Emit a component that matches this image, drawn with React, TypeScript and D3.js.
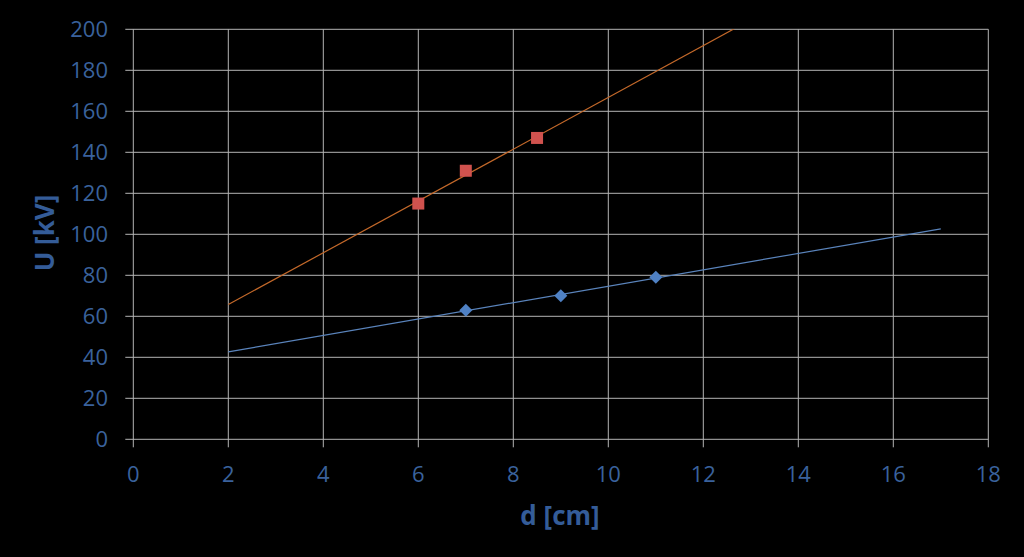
import React from "react";
import * as d3 from "d3";

const xTicks = [0, 2, 4, 6, 8, 10, 12, 14, 16, 18];
const yTicks = [0, 20, 40, 60, 80, 100, 120, 140, 160, 180, 200];

const redX = [6, 7, 8.5];
const redY = [115, 131, 147];
const blueX = [7, 9, 11];
const blueY = [63, 70, 79];
const trendRange = [2, 17];

function fit(xs: number[], ys: number[]) {
  const xm = d3.mean(xs)!;
  const ym = d3.mean(ys)!;
  let num = 0, den = 0;
  xs.forEach((x, i) => { num += (x - xm) * (ys[i] - ym); den += (x - xm) ** 2; });
  const m = num / den;
  return (x: number) => ym + m * (x - xm);
}

export default function App() {
  const W = 1024, H = 557;
  const x = d3.scaleLinear().domain([0, 18]).range([133.3, 988.3]);
  const y = d3.scaleLinear().domain([0, 200]).range([439.3, 29.3]);
  const grid = "#B4B4B4";
  const tickColor = "#3A629C";
  const titleColor = "#345C98";
  const font = "'Open Sans', 'Liberation Sans', sans-serif";

  const redF = fit(redX, redY);
  const blueF = fit(blueX, blueY);
  const redPath = d3.line<number>().x((d) => x(d)).y((d) => y(redF(d)))(trendRange)!;
  const bluePath = d3.line<number>().x((d) => x(d)).y((d) => y(blueF(d)))(trendRange)!;

  return (
    <svg width={W} height={H} style={{ position: "absolute", left: 0, top: 0, background: "#000" }}>
      <rect x={0} y={0} width={W} height={H} fill="#000" />
      <defs>
        <clipPath id="plot">
          <rect x={x(0)} y={y(200)} width={x(18) - x(0)} height={y(0) - y(200)} />
        </clipPath>
      </defs>
      {yTicks.map((t) => (
        <g key={"y" + t}>
          <line x1={x(0) - 8} x2={x(18)} y1={y(t)} y2={y(t)} stroke={grid} strokeWidth={1} />
          <text x={108} y={y(t)} dy="0.35em" textAnchor="end" fill={tickColor} fontFamily={font} fontSize={22}>
            {t}
          </text>
        </g>
      ))}
      {xTicks.map((t) => (
        <g key={"x" + t}>
          <line x1={x(t)} x2={x(t)} y1={y(200)} y2={y(0) + 8} stroke={grid} strokeWidth={1} />
          <text x={x(t)} y={474} dy="0.35em" textAnchor="middle" fill={tickColor} fontFamily={font} fontSize={22}>
            {t}
          </text>
        </g>
      ))}
      <g clipPath="url(#plot)">
        <path d={redPath} stroke="#C4692A" strokeWidth={1.2} fill="none" />
        <path d={bluePath} stroke="#5A84BC" strokeWidth={1.2} fill="none" />
      </g>
      {redX.map((v, i) => (
        <rect key={"r" + i} x={x(v) - 6} y={y(redY[i]) - 6} width={12} height={12} fill="#D0524E" />
      ))}
      {blueX.map((v, i) => (
        <path
          key={"b" + i}
          d={`M${x(v)},${y(blueY[i]) - 6.5}L${x(v) + 6.5},${y(blueY[i])}L${x(v)},${y(blueY[i]) + 6.5}L${x(v) - 6.5},${y(blueY[i])}Z`}
          fill="#4F81C4"
        />
      ))}
      <text x={560} y={516} dy="0.35em" textAnchor="middle" fill={titleColor} fontFamily={font} fontWeight="bold" fontSize={26}>
        d [cm]
      </text>
      <text
        transform="translate(45,233) rotate(-90)"
        dy="0.35em"
        textAnchor="middle"
        fill={titleColor}
        fontFamily={font}
        fontWeight="bold"
        fontSize={26}
      >
        U [kV]
      </text>
    </svg>
  );
}
